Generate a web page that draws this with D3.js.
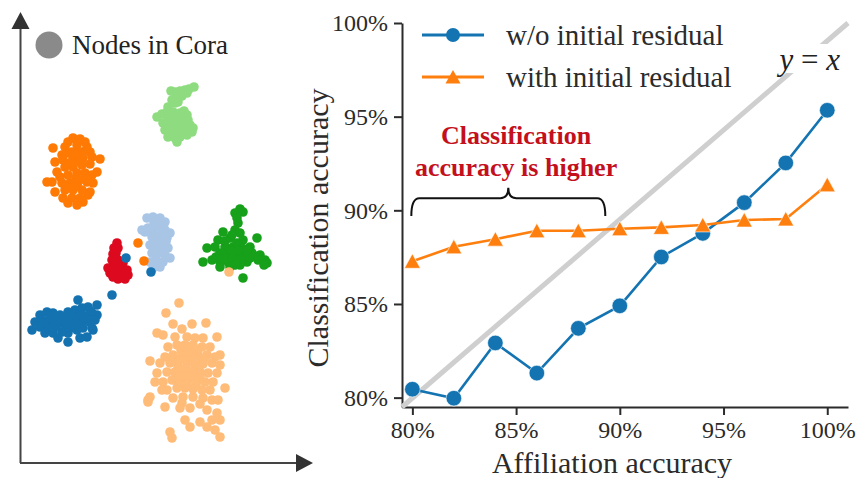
<!DOCTYPE html>
<html>
<head>
<meta charset="utf-8">
<script src="https://cdn.jsdelivr.net/npm/d3@7"></script>
<style>
  body { margin: 0; background: #fff; }
  text { font-family: "Liberation Serif", "Times New Roman", serif; }
</style>
</head>
<body>
<div id="chart"></div>
<script>
// ---- line chart data ----
const affiliation = [80, 82, 84, 86, 88, 90, 92, 94, 96, 98, 100];
const withoutIR = [80.45, 79.97, 82.92, 81.31, 83.70, 84.90, 87.51, 88.77, 90.41, 92.53, 95.34];
const withIR = [87.28, 88.05, 88.46, 88.91, 88.91, 89.02, 89.09, 89.22, 89.48, 89.54, 91.36];
const tickValues = [80, 85, 90, 95, 100];
const refLine = [[79.5, 79.5], [101, 100]];

// ---- embedding clusters (Cora nodes) ----
const lightGreenPts = [[174,376],[169,374],[165,373],[160,372],[155,371],[151,372],[167,370],[162,367],[157,365],[152,363],[158,361],[155,360],[148,356],[137,346],[142,349],[147,351],[153,351],[160,350],[167,348],[148,345],[155,345],[162,345],[168,343],[143,340],[150,338],[157,338],[163,338],[170,338],[173,335],[145,333],[152,331],[158,331],[165,331],[172,331],[148,326],[155,325],[160,326],[167,328],[157,321],[152,342],[159,341],[165,341],[146,336],[154,334],[161,334],[168,334],[151,328],[163,329],[157,347],[164,352],[150,348]];
const orangePts = [[53,325],[60,324],[65,321],[48,321],[45,316],[57,318],[67,316],[70,311],[33,315],[42,308],[52,311],[62,311],[35,301],[43,303],[53,305],[63,305],[72,306],[80,304],[37,291],[45,296],[53,296],[62,298],[70,299],[77,291],[32,281],[40,286],[48,288],[57,290],[65,290],[72,288],[42,280],[50,280],[58,281],[67,281],[73,280],[35,271],[45,273],[53,273],[62,273],[70,271],[43,265],[52,265],[60,265],[68,268],[48,260],[57,258],[63,261],[27,281],[50,300],[58,302],[56,285],[49,276],[57,277],[64,284],[47,310],[56,310]];
const lightBluePts = [[127,245],[133,246],[140,245],[145,241],[122,233],[128,235],[137,236],[145,233],[150,230],[132,226],[138,226],[147,225],[130,218],[137,218],[143,216],[148,215],[132,210],[138,210],[145,208],[150,205],[130,201],[137,201],[143,201],[133,195],[140,196],[125,231],[134,240],[141,239],[133,231],[142,229],[134,222],[141,221],[135,213],[142,212],[136,205],[146,221]];
const redPts = [[97,220],[94,215],[98,215],[93,209],[92,203],[98,203],[103,200],[88,195],[95,196],[102,195],[107,193],[90,190],[97,190],[103,188],[108,188],[98,184],[105,184],[93,186],[96,210],[94,199],[100,199],[92,192],[99,193],[105,191],[101,187]];
const greenPts = [[220,254],[215,250],[223,251],[218,240],[215,233],[220,230],[203,231],[198,223],[210,225],[223,223],[237,225],[187,215],[195,216],[205,216],[213,216],[222,215],[230,216],[200,210],[207,208],[215,208],[223,208],[232,210],[240,208],[183,201],[192,203],[200,201],[208,201],[217,203],[227,201],[238,203],[245,203],[200,196],[210,196],[220,198],[247,200],[223,185],[217,245],[212,228],[205,222],[217,220],[211,212],[219,212],[227,213],[196,206],[204,204],[212,205],[221,204],[230,205],[215,198],[244,198]];
const bluePts = [[20,148],[27,151],[33,150],[40,148],[48,151],[55,153],[62,155],[68,156],[77,158],[15,141],[22,143],[30,143],[38,143],[47,145],[55,146],[62,148],[72,150],[77,148],[12,133],[20,136],[28,136],[37,138],[45,138],[53,140],[62,141],[70,141],[75,143],[25,130],[33,130],[42,131],[48,130],[57,133],[63,135],[72,135],[38,125],[48,121],[60,125],[67,126],[73,133],[25,140],[34,135],[43,143],[50,135],[58,138],[66,145],[70,152],[30,147]];
const lightOrangePts = [[159,160],[146,150],[153,139],[172,139],[186,140],[162,134],[197,126],[137,130],[143,128],[155,126],[167,126],[175,125],[183,125],[148,116],[157,118],[165,118],[173,118],[182,116],[190,116],[200,108],[145,106],[153,108],[162,110],[170,110],[178,109],[187,108],[195,106],[140,100],[150,100],[158,100],[167,100],[175,100],[183,99],[192,100],[200,98],[130,102],[147,91],[155,91],[163,92],[172,91],[180,91],[188,90],[197,90],[137,90],[152,83],[160,83],[168,83],[177,82],[185,81],[193,81],[135,81],[143,81],[147,73],[157,75],[165,75],[173,74],[182,73],[190,73],[205,75],[130,66],[142,73],[153,65],[163,66],[173,66],[183,65],[192,63],[198,63],[162,60],[180,59],[145,56],[160,55],[170,55],[187,53],[197,50],[192,43],[200,43],[165,43],[180,41],[170,36],[187,36],[195,33],[150,31],[200,26],[152,25],[128,63],[128,61],[158,95],[166,95],[175,95],[152,104],[160,104],[168,104],[176,104],[184,104],[156,87],[164,87],[172,87],[180,86],[161,113],[169,113],[177,113],[158,79],[167,79],[176,78]];
const strayOrange = [[118,220],[124,202]];
const strayBlue = [[106,205],[131,191],[92,168],[58,163]];
const strayLightOrange = [[209,191]];

const W = 859, H = 478;
const svg = d3.select("#chart").append("svg")
  .attr("width", W).attr("height", H);

const ink = "#2b2b2b";

// ================= left panel: embedding =================
const sx = d3.scaleLinear().domain([0, 293]).range([20, 313]);
const sy = d3.scaleLinear().domain([0, 451]).range([463, 12]);

const left = svg.append("g");
left.append("line").attr("x1", 20.5).attr("y1", 463).attr("x2", 20.5).attr("y2", 26)
  .attr("stroke", "#444").attr("stroke-width", 2);
left.append("line").attr("x1", 20).attr("y1", 463).attr("x2", 299).attr("y2", 463)
  .attr("stroke", "#444").attr("stroke-width", 2);
left.append("path").attr("d", "M20.5,12L29.5,29L11.5,29Z").attr("fill", "#333");
left.append("path").attr("d", "M313,463L296,454L296,472Z").attr("fill", "#333");

const clusters = [
  { pts: lightGreenPts, color: "#8fdc80" },
  { pts: orangePts, color: "#ff7a05" },
  { pts: lightBluePts, color: "#a9c5e6" },
  { pts: redPts, color: "#dd0a1f" },
  { pts: greenPts, color: "#17a01a" },
  { pts: bluePts, color: "#1472b0" },
  { pts: lightOrangePts, color: "#ffbb78" },
  { pts: strayOrange, color: "#ff7a05" },
  { pts: strayBlue, color: "#1472b0" },
  { pts: strayLightOrange, color: "#ffbb78" }
];
clusters.forEach(function(c) {
  left.append("g").selectAll("circle")
    .data(c.pts)
    .enter().append("circle")
    .attr("cx", d => sx(d[0]))
    .attr("cy", d => sy(d[1]))
    .attr("r", 4.8)
    .attr("fill", c.color);
});

left.append("circle").attr("cx", 49).attr("cy", 45).attr("r", 13.5).attr("fill", "#8a8a8a");
left.append("text").attr("x", 72).attr("y", 54)
  .style("font-size", "27px").attr("fill", "#222").text("Nodes in Cora");

// ================= right panel: accuracy =================
const x = d3.scaleLinear().domain([79.5, 101]).range([402, 848]);
const y = d3.scaleLinear().domain([79.5, 100]).range([407, 23]);

const xAxis = svg.append("g")
  .attr("transform", "translate(0," + y(79.5) + ")")
  .call(d3.axisBottom(x).tickValues(tickValues).tickFormat(d => d + "%")
    .tickSize(8).tickSizeOuter(0).tickPadding(6));
const yAxis = svg.append("g")
  .attr("transform", "translate(" + x(79.5) + ",0)")
  .call(d3.axisLeft(y).tickValues(tickValues).tickFormat(d => d + "%")
    .tickSize(8).tickSizeOuter(0).tickPadding(6));
[xAxis, yAxis].forEach(function(a) {
  a.select(".domain").attr("stroke", ink).attr("stroke-width", 2);
  a.selectAll(".tick line").attr("stroke", ink).attr("stroke-width", 2);
  a.selectAll(".tick text").attr("fill", ink)
    .style("font-family", "'Liberation Serif', serif").style("font-size", "24px");
});

svg.append("text")
  .attr("x", 612).attr("y", 473).attr("text-anchor", "middle")
  .style("font-size", "30px").attr("fill", ink).text("Affiliation accuracy");
svg.append("text")
  .attr("transform", "translate(328,228) rotate(-90)")
  .attr("text-anchor", "middle")
  .style("font-size", "30px").attr("fill", ink).text("Classification accuracy");

// y = x reference
svg.append("line")
  .attr("x1", x(refLine[0][0])).attr("y1", y(refLine[0][1]))
  .attr("x2", x(refLine[1][0])).attr("y2", y(refLine[1][1]))
  .attr("stroke", "#cfcfcf").attr("stroke-width", 5);
svg.append("rect").attr("x", 766).attr("y", 44).attr("width", 78).attr("height", 29).attr("fill", "#fff");
const yx = svg.append("text").attr("x", 840).attr("y", 70).attr("text-anchor", "end")
  .style("font-size", "31px").attr("fill", "#222");
yx.append("tspan").style("font-style", "italic").text("y");
yx.append("tspan").text(" = ");
yx.append("tspan").style("font-style", "italic").text("x");

// series
const blue = "#1474b2", orange = "#ff7f0e";
const line = d3.line().x((d, i) => x(affiliation[i])).y(d => y(d));

svg.append("path").datum(withoutIR).attr("d", line)
  .attr("fill", "none").attr("stroke", blue).attr("stroke-width", 2.6);
svg.append("g").selectAll("circle").data(withoutIR).enter().append("circle")
  .attr("cx", (d, i) => x(affiliation[i])).attr("cy", d => y(d)).attr("r", 7.8)
  .attr("fill", blue).attr("stroke", "#fff").attr("stroke-width", 0.6);

const tri = "M0,-7.5L8,7L-8,7Z";
svg.append("path").datum(withIR).attr("d", line)
  .attr("fill", "none").attr("stroke", orange).attr("stroke-width", 2.6);
svg.append("g").selectAll("path").data(withIR).enter().append("path")
  .attr("d", tri)
  .attr("transform", (d, i) => "translate(" + x(affiliation[i]) + "," + y(d) + ")")
  .attr("fill", orange).attr("stroke", "#fff").attr("stroke-width", 0.6);

// legend
const legend = svg.append("g");
[{ label: "w/o initial residual", color: blue, shape: "circle", cy: 35 },
 { label: "with initial residual", color: orange, shape: "tri", cy: 77 }].forEach(function(l) {
  legend.append("line").attr("x1", 422).attr("x2", 484).attr("y1", l.cy).attr("y2", l.cy)
    .attr("stroke", l.color).attr("stroke-width", 2.8);
  if (l.shape === "circle") {
    legend.append("circle").attr("cx", 453).attr("cy", l.cy).attr("r", 7).attr("fill", l.color);
  } else {
    legend.append("path").attr("d", "M0,-7L7.5,6.5L-7.5,6.5Z")
      .attr("transform", "translate(453," + l.cy + ")").attr("fill", l.color);
  }
  legend.append("text").attr("x", 506).attr("y", l.cy + 10)
    .style("font-size", "29px").attr("fill", ink).text(l.label);
});

// annotation with brace
const red = "#c4101c";
const note = svg.append("text").attr("text-anchor", "middle")
  .style("font-size", "26px").style("font-weight", "bold").attr("fill", red);
note.append("tspan").attr("x", x(85)).attr("y", 144).text("Classification");
note.append("tspan").attr("x", x(85)).attr("y", 176).text("accuracy is higher");

const bx0 = x(79.95), bx1 = x(89.3), by0 = y(89.7), by1 = y(90.65), btip = y(91.2);
const bm = (bx0 + bx1) / 2;
svg.append("path")
  .attr("d", "M" + bx0 + "," + by0 + "Q" + bx0 + "," + by1 + " " + (bx0 + 8) + "," + by1 +
    "L" + (bm - 8) + "," + by1 + "Q" + bm + "," + by1 + " " + bm + "," + btip +
    "Q" + bm + "," + by1 + " " + (bm + 8) + "," + by1 +
    "L" + (bx1 - 8) + "," + by1 + "Q" + bx1 + "," + by1 + " " + bx1 + "," + by0)
  .attr("fill", "none").attr("stroke", "#111").attr("stroke-width", 2);
</script>
</body>
</html>
